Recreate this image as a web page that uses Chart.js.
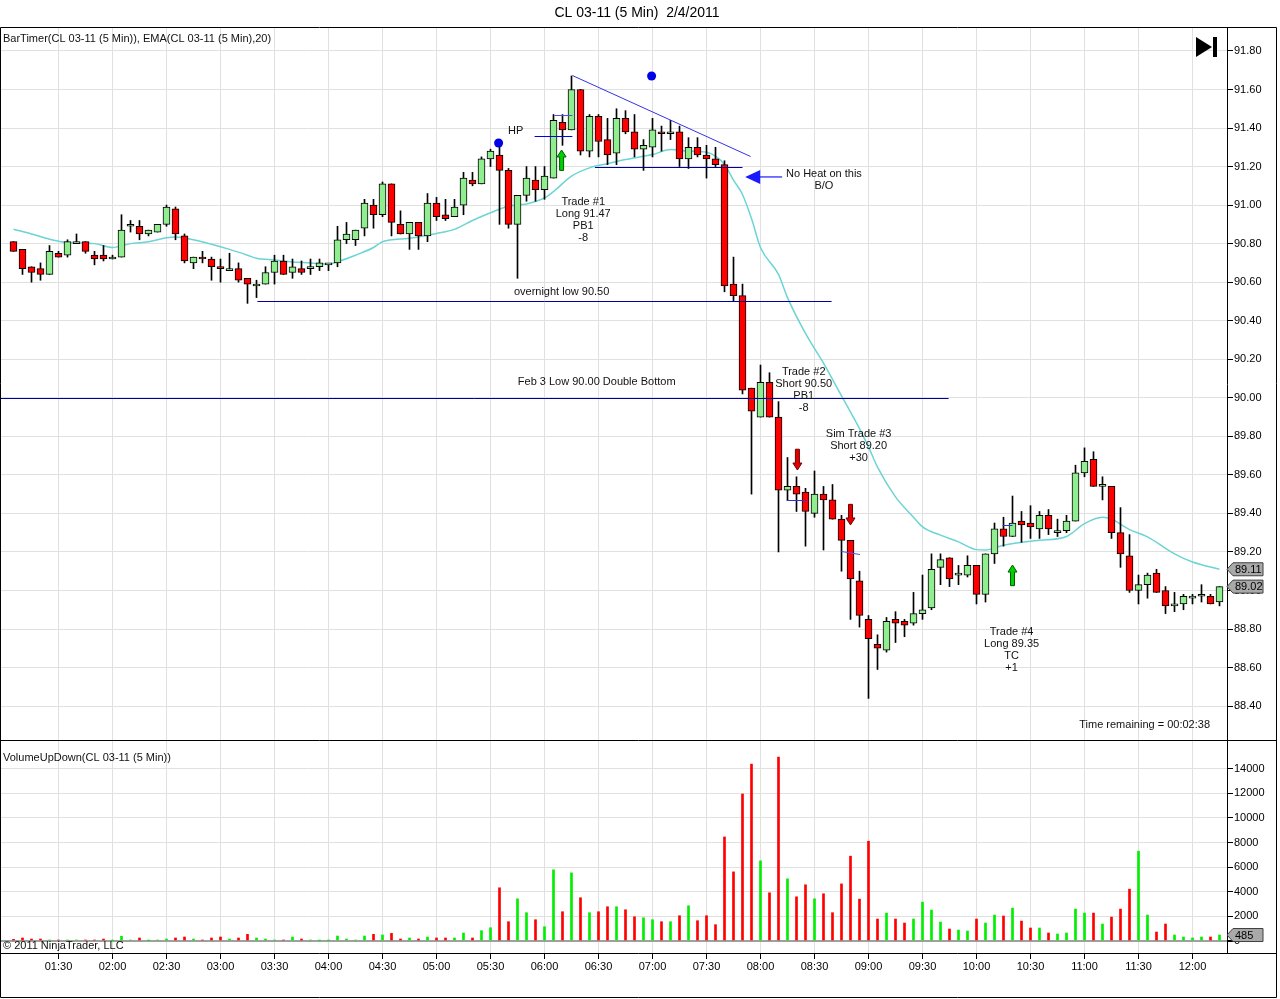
<!DOCTYPE html>
<html>
<head>
<meta charset="utf-8">
<script src="https://cdn.jsdelivr.net/npm/chart.js@4.4.0/dist/chart.umd.min.js"></script>
<style>
  html, body { margin: 0; padding: 0; background: #fff; }
  #wrap { position: relative; width: 1280px; height: 999px; }
  canvas { position: absolute; left: 0; }
  #price { top: 0; }
  #volume { top: 740px; }
</style>
</head>
<body>
<div id="wrap">
  <canvas id="price" width="1280" height="740"></canvas>
  <canvas id="volume" width="1280" height="259"></canvas>
</div>
<script>
// 5 minute bars, CL 03-11, 2/4/2011
const times = [
  "01:05","01:10","01:15","01:20","01:25","01:30","01:35","01:40","01:45","01:50","01:55",
  "02:00","02:05","02:10","02:15","02:20","02:25","02:30","02:35","02:40","02:45","02:50","02:55",
  "03:00","03:05","03:10","03:15","03:20","03:25","03:30","03:35","03:40","03:45","03:50","03:55",
  "04:00","04:05","04:10","04:15","04:20","04:25","04:30","04:35","04:40","04:45","04:50","04:55",
  "05:00","05:05","05:10","05:15","05:20","05:25","05:30","05:35","05:40","05:45","05:50","05:55",
  "06:00","06:05","06:10","06:15","06:20","06:25","06:30","06:35","06:40","06:45","06:50","06:55",
  "07:00","07:05","07:10","07:15","07:20","07:25","07:30","07:35","07:40","07:45","07:50","07:55",
  "08:00","08:05","08:10","08:15","08:20","08:25","08:30","08:35","08:40","08:45","08:50","08:55",
  "09:00","09:05","09:10","09:15","09:20","09:25","09:30","09:35","09:40","09:45","09:50","09:55",
  "10:00","10:05","10:10","10:15","10:20","10:25","10:30","10:35","10:40","10:45","10:50","10:55",
  "11:00","11:05","11:10","11:15","11:20","11:25","11:30","11:35","11:40","11:45","11:50","11:55",
  "12:00","12:05","12:10","12:15"
];

const opens = [
  90.81,90.77,90.68,90.67,90.64,90.75,90.74,90.80,90.81,90.74,
  90.74,90.72,90.73,90.89,90.89,90.85,90.86,90.90,90.98,90.84,
  90.70,90.73,90.72,90.68,90.66,90.67,90.62,90.58,90.59,90.65,
  90.71,90.65,90.67,90.67,90.68,90.69,90.70,90.82,90.82,90.88,
  91.00,90.95,91.11,90.90,90.85,90.91,90.84,91.01,90.95,90.94,
  91.00,91.13,91.11,91.24,91.26,91.18,90.90,91.05,91.13,91.08,
  91.14,91.43,91.39,91.60,91.28,91.46,91.34,91.27,91.45,91.38,
  91.29,91.30,91.38,91.37,91.38,91.24,91.30,91.26,91.24,91.21,
  90.59,90.53,90.05,89.90,90.08,89.90,89.52,89.54,89.51,89.40,
  89.50,89.47,89.37,89.26,89.05,88.85,88.72,88.69,88.85,88.84,
  88.83,88.88,88.91,89.12,89.17,89.08,89.08,89.13,88.98,89.19,
  89.32,89.28,89.36,89.35,89.32,89.39,89.30,89.31,89.36,89.61,
  89.68,89.54,89.54,89.30,89.18,89.00,89.03,89.09,89.00,88.92,
  88.93,88.96,88.97,88.97,88.94
];
const highs = [
  90.81,90.77,90.68,90.70,90.79,90.76,90.82,90.85,90.81,90.76,
  90.79,90.74,90.95,90.92,90.92,90.87,90.90,91.00,90.99,90.85,
  90.73,90.76,90.73,90.72,90.75,90.70,90.62,90.61,90.68,90.74,
  90.74,90.72,90.71,90.72,90.72,90.69,90.89,90.91,90.87,91.03,
  91.03,91.12,91.11,90.97,90.91,90.91,91.06,91.04,91.03,91.03,
  91.17,91.17,91.25,91.29,91.32,91.19,91.05,91.20,91.20,91.20,
  91.47,91.47,91.67,91.60,91.47,91.47,91.45,91.50,91.49,91.47,
  91.34,91.45,91.41,91.44,91.41,91.35,91.35,91.31,91.30,91.23,
  90.73,90.59,90.05,90.17,90.13,89.98,89.69,89.59,89.53,89.62,
  89.54,89.55,89.39,89.26,89.10,88.87,88.77,88.86,88.89,88.85,
  88.99,89.08,89.19,89.19,89.17,89.13,89.18,89.13,89.19,89.35,
  89.38,89.49,89.41,89.44,89.41,89.42,89.37,89.39,89.65,89.74,
  89.72,89.59,89.54,89.43,89.29,89.08,89.09,89.11,89.02,88.99,
  88.98,88.98,89.03,88.98,89.02
];
const lows = [
  90.76,90.64,90.60,90.61,90.64,90.73,90.73,90.80,90.75,90.69,
  90.71,90.72,90.73,90.86,90.82,90.84,90.86,90.89,90.82,90.70,
  90.67,90.70,90.61,90.60,90.66,90.60,90.49,90.52,90.59,90.59,
  90.64,90.62,90.64,90.64,90.66,90.66,90.68,90.80,90.79,90.84,
  90.88,90.94,90.84,90.85,90.77,90.77,90.81,90.92,90.92,90.94,
  90.95,91.10,91.11,91.20,90.90,90.88,90.62,91.02,91.02,91.03,
  91.14,91.31,91.39,91.26,91.25,91.25,91.21,91.21,91.37,91.25,
  91.18,91.25,91.28,91.34,91.20,91.19,91.25,91.14,91.20,90.55,
  90.50,90.02,89.50,89.90,89.90,89.20,89.47,89.41,89.23,89.38,
  89.21,89.37,89.10,88.85,88.81,88.44,88.59,88.68,88.73,88.76,
  88.82,88.85,88.90,89.03,89.02,89.03,89.07,88.93,88.94,89.14,
  89.23,89.28,89.25,89.27,89.27,89.29,89.28,89.30,89.36,89.59,
  89.54,89.47,89.27,89.12,88.99,88.93,88.96,88.99,88.88,88.89,
  88.90,88.93,88.94,88.93,88.92
];
const closes = [
  90.76,90.67,90.65,90.64,90.76,90.73,90.81,90.81,90.76,90.72,
  90.72,90.73,90.87,90.90,90.85,90.87,90.90,90.99,90.85,90.71,
  90.73,90.72,90.68,90.67,90.67,90.61,90.59,90.59,90.65,90.71,
  90.64,90.68,90.65,90.67,90.70,90.69,90.82,90.85,90.87,91.01,
  90.95,91.11,90.91,90.85,90.91,90.84,91.01,90.94,90.93,90.99,
  91.14,91.11,91.24,91.28,91.18,90.90,91.05,91.14,91.08,91.15,
  91.44,91.39,91.60,91.28,91.46,91.33,91.26,91.45,91.38,91.29,
  91.31,91.39,91.37,91.38,91.24,91.30,91.26,91.24,91.21,90.58,
  90.53,90.04,89.93,90.08,89.90,89.52,89.54,89.50,89.41,89.50,
  89.47,89.37,89.26,89.06,88.87,88.75,88.70,88.84,88.83,88.82,
  88.88,88.90,89.11,89.16,89.06,89.09,89.13,88.98,89.19,89.32,
  89.28,89.35,89.34,89.33,89.39,89.32,89.30,89.36,89.61,89.67,
  89.54,89.54,89.30,89.19,89.00,89.03,89.08,88.99,88.92,88.93,
  88.97,88.97,88.98,88.93,89.02
];
const volumes = [
  135,245,160,160,80,80,80,80,80,80,
  160,30,380,80,245,30,80,160,245,325,
  160,80,245,325,160,245,540,245,160,80,
  80,325,160,80,30,30,405,160,80,405,
  540,490,620,160,245,160,325,245,245,245,
  650,245,840,1080,4325,1570,3430,2300,1730,1160,
  5785,2380,5540,3515,2300,2380,2785,2785,2540,1970,
  1890,1730,1570,1570,2055,2865,1650,2055,1325,8460,
  5620,11950,14380,6515,3920,14950,5055,3595,4570,3430,
  3840,2300,4640,6900,3405,8110,1785,2270,1785,1460,
  1785,3160,2515,1540,975,890,810,1785,1460,2110,
  2030,2675,1620,1055,1055,650,570,650,2595,2270,
  2270,1380,1945,2595,4215,7300,2110,730,1380,485,
  325,245,325,325,485
];

// EMA(20) at these bars
const emaBars = [0,2,4,6,9,11,13,15,17,18,20,22,24,26,27,29,31,33,35,36,38,40,41,44,47,49,51,53,55,57,59,60,62,64,66,68,71,73,75,77,78,79,80,81,82,83,85,86,88,90,92,94,95,96,98,100,101,103,105,107,108,110,113,114,117,119,121,122,124,126,129,131,134];
const emaValues = [90.875,90.85,90.823,90.806,90.80,90.78,90.80,90.81,90.83,90.835,90.82,90.797,90.77,90.74,90.724,90.715,90.705,90.70,90.694,90.706,90.74,90.78,90.81,90.828,90.853,90.874,90.92,90.96,90.994,91.006,91.037,91.07,91.15,91.193,91.215,91.236,91.262,91.288,91.28,91.274,91.254,91.21,91.13,91.055,90.93,90.78,90.64,90.52,90.334,90.18,90.01,89.84,89.745,89.64,89.486,89.38,89.33,89.287,89.252,89.212,89.21,89.235,89.256,89.26,89.28,89.347,89.38,89.37,89.316,89.278,89.19,89.148,89.11];

const priceTicks = [88.40,88.60,88.80,89.00,89.20,89.40,89.60,89.80,90.00,90.20,90.40,90.60,90.80,91.00,91.20,91.40,91.60,91.80];
const volumeTicks = [0,2000,4000,6000,8000,10000,12000,14000];
const timeTicks = ["01:30","02:00","02:30","03:00","03:30","04:00","04:30","05:00","05:30","06:00","06:30","07:00","07:30","08:00","08:30","09:00","09:30","10:00","10:30","11:00","11:30","12:00"];

// drawing objects, in bar index / price units
const levelLines = [
  { x0: 27.1, p0: 90.50, x1: 90.9, p1: 90.50, color: '#00009a' },
  { x0: -1.39, p0: 90.00, x1: 103.9, p1: 90.00, color: '#00009a' },
  { x0: 64.6, p0: 91.20, x1: 81.0, p1: 91.20, color: '#00009a' },
  { x0: 57.9, p0: 91.36, x1: 62.1, p1: 91.36, color: '#0000e0' },
  { x0: 60.1, p0: 91.47, x1: 62.1, p1: 91.47, color: '#5050e8' },
  { x0: 85.9, p0: 89.47, x1: 88.1, p1: 89.47, color: '#3030d8' },
  { x0: 92.0, p0: 89.205, x1: 94.05, p1: 89.19, color: '#5050e8' },
  { x0: 109.9, p0: 89.34, x1: 111.0, p1: 89.34, color: '#3030d8' },
  { x0: 62.1, p0: 91.675, x1: 81.9, p1: 91.255, color: '#3232e6' }
];
const notes = [
  { x: 60.9, p: 90.549, lines: ['overnight low 90.50'] },
  { x: 64.8, p: 90.082, lines: ['Feb 3 Low 90.00 Double Bottom'] },
  { x: 55.8, p: 91.385, lines: ['HP'] },
  { x: 63.3, p: 91.016, lines: ['Trade #1', 'Long 91.47', 'PB1', '-8'] },
  { x: 90.05, p: 91.161, lines: ['No Heat on this', 'B/O'] },
  { x: 87.8, p: 90.134, lines: ['Trade #2', 'Short 90.50', 'PB1', '-8'] },
  { x: 93.9, p: 89.812, lines: ['Sim Trade #3', 'Short 89.20', '+30'] },
  { x: 110.9, p: 88.784, lines: ['Trade #4', 'Long 89.35', 'TC', '+1'] }
];
const dots = [ { x: 53.9, p: 91.322 }, { x: 70.9, p: 91.67 } ];
const upArrows = [ { x: 60.9, tip: 91.286, base: 91.18 }, { x: 111.0, tip: 89.132, base: 89.025 } ];
const downArrows = [ { x: 87.1, tip: 89.625, base: 89.733 }, { x: 93.0, tip: 89.34, base: 89.447 } ];
const pointer = { x: 81.3, p: 91.146, tail: 85.4 };

const FONT = '11px Arial, "Liberation Sans", sans-serif';
const TEXT = '#111';
const UP = '#90ee90', DOWN = '#ff0000';
const VOL_UP = '#00ee00', VOL_DOWN = '#ff0000';
const GRID = '#e0e0e0';
const X_MIN = -1.3889, X_MAX = 134.8333;

Chart.defaults.font.family = 'Arial, "Liberation Sans", sans-serif';
Chart.defaults.font.size = 11;
Chart.defaults.color = '#000';

function timeAxis(showLabels) {
  return {
    type: 'linear',
    min: X_MIN,
    max: X_MAX,
    offset: false,
    afterBuildTicks: s => { s.ticks = timeTicks.map(t => ({ value: times.indexOf(t) })); },
    afterFit: s => {
      s.height = showLabels ? 46 : 0;
      s.paddingLeft = 0; s.paddingRight = 0;
    },
    ticks: { display: showLabels, autoSkip: false, maxRotation: 0, padding: 1, callback: v => times[v] },
    grid: { color: GRID, offset: false, drawTicks: showLabels, tickLength: 6, tickColor: '#000' },
    border: { display: false }
  };
}

// right-hand value axis: fixed width, no extra layout padding for half labels
function fitValueAxis(s) {
  s.width = 50;
  s.paddingTop = 0;
  s.paddingBottom = 0;
}

function badge(ctx, x0, y, text) {
  ctx.beginPath();
  ctx.moveTo(x0, y);
  ctx.lineTo(x0 + 6, y - 6.5);
  ctx.lineTo(x0 + 36, y - 6.5);
  ctx.lineTo(x0 + 36, y + 6.5);
  ctx.lineTo(x0 + 6, y + 6.5);
  ctx.closePath();
  ctx.fillStyle = '#a9a9a9';
  ctx.fill();
  ctx.strokeStyle = '#404040';
  ctx.lineWidth = 1;
  ctx.stroke();
  ctx.fillStyle = '#000';
  ctx.font = FONT;
  ctx.textAlign = 'left';
  ctx.textBaseline = 'middle';
  ctx.fillText(text, x0 + 8, y + 0.5);
}

function drawArrow(ctx, cx, yTip, yBase, fill, line) {
  const d = yBase > yTip ? 1 : -1;
  const hh = 7, hw = 4.5, sw = 2;
  ctx.beginPath();
  ctx.moveTo(cx, yTip);
  ctx.lineTo(cx + hw, yTip + d * hh);
  ctx.lineTo(cx + sw, yTip + d * hh);
  ctx.lineTo(cx + sw, yBase);
  ctx.lineTo(cx - sw, yBase);
  ctx.lineTo(cx - sw, yTip + d * hh);
  ctx.lineTo(cx - hw, yTip + d * hh);
  ctx.closePath();
  ctx.fillStyle = fill;
  ctx.fill();
  ctx.strokeStyle = line;
  ctx.lineWidth = 1;
  ctx.stroke();
}

const priceDecor = {
  id: 'priceDecor',
  afterDatasetsDraw(chart) {
    const { ctx, chartArea: a, scales: { x, y } } = chart;
    const X = v => x.getPixelForValue(v), Y = v => y.getPixelForValue(v);
    ctx.save();
    ctx.beginPath();
    ctx.rect(a.left, a.top, a.right - a.left, a.bottom - a.top);
    ctx.clip();

    levelLines.forEach(l => {
      ctx.strokeStyle = l.color;
      ctx.lineWidth = 1;
      ctx.beginPath();
      ctx.moveTo(X(l.x0), Math.round(Y(l.p0)) + 0.5);
      ctx.lineTo(X(l.x1), Math.round(Y(l.p1)) + 0.5);
      ctx.stroke();
    });

    dots.forEach(d => {
      ctx.fillStyle = '#0000e6';
      ctx.beginPath();
      ctx.arc(X(d.x), Y(d.p), 4.5, 0, Math.PI * 2);
      ctx.fill();
    });

    upArrows.forEach(r => drawArrow(ctx, X(r.x), Y(r.tip), Y(r.base), '#00d000', '#005a00'));
    downArrows.forEach(r => drawArrow(ctx, X(r.x), Y(r.tip), Y(r.base), '#e00000', '#700000'));

    const tx = X(pointer.x), ty = Y(pointer.p);
    ctx.fillStyle = '#1a1aff';
    ctx.beginPath();
    ctx.moveTo(tx, ty);
    ctx.lineTo(tx + 15, ty - 7);
    ctx.lineTo(tx + 15, ty + 7);
    ctx.closePath();
    ctx.fill();
    ctx.strokeStyle = '#1a1aff';
    ctx.lineWidth = 1.2;
    ctx.beginPath();
    ctx.moveTo(tx + 14, ty);
    ctx.lineTo(X(pointer.tail), ty);
    ctx.stroke();

    ctx.font = FONT;
    ctx.fillStyle = TEXT;
    ctx.textAlign = 'center';
    ctx.textBaseline = 'middle';
    notes.forEach(n => {
      n.lines.forEach((t, k) => ctx.fillText(t, X(n.x), Y(n.p) + k * 12));
    });
    ctx.restore();
  },
  afterDraw(chart) {
    const { ctx, chartArea: a, scales: { y } } = chart;
    ctx.save();
    ctx.font = '14px Arial, "Liberation Sans", sans-serif';
    ctx.fillStyle = '#000';
    ctx.textAlign = 'center';
    ctx.textBaseline = 'middle';
    ctx.fillText('CL 03-11 (5 Min)  2/4/2011', chart.width / 2 - 3, 13);

    ctx.font = FONT;
    ctx.fillStyle = TEXT;
    ctx.textAlign = 'left';
    ctx.fillText('BarTimer(CL 03-11 (5 Min)), EMA(CL 03-11 (5 Min),20)', a.left + 2, a.top + 11);
    ctx.textAlign = 'right';
    ctx.fillText('Time remaining = 00:02:38', a.right - 17, a.bottom - 15);

    // play/end icon
    ctx.fillStyle = '#000';
    ctx.beginPath();
    ctx.moveTo(a.right - 31, a.top + 9);
    ctx.lineTo(a.right - 15, a.top + 19);
    ctx.lineTo(a.right - 31, a.top + 29);
    ctx.closePath();
    ctx.fill();
    ctx.fillRect(a.right - 14, a.top + 9, 4, 20);

    badge(ctx, a.right, y.getPixelForValue(emaValues[emaValues.length - 1]), emaValues[emaValues.length - 1].toFixed(2));
    badge(ctx, a.right, y.getPixelForValue(closes[closes.length - 1]), closes[closes.length - 1].toFixed(2));

    ctx.strokeStyle = '#000';
    ctx.lineWidth = 1;
    ctx.beginPath();
    ctx.moveTo(0.5, chart.height);
    ctx.lineTo(0.5, a.top - 0.5);
    ctx.lineTo(1276.5, a.top - 0.5);
    ctx.lineTo(1276.5, chart.height);
    ctx.stroke();
    ctx.restore();
  }
};

const volumeDecor = {
  id: 'volumeDecor',
  afterDraw(chart) {
    const { ctx, chartArea: a, scales: { y } } = chart;
    ctx.save();
    ctx.font = FONT;
    ctx.fillStyle = TEXT;
    ctx.textAlign = 'left';
    ctx.textBaseline = 'middle';
    ctx.fillText('VolumeUpDown(CL 03-11 (5 Min))', a.left + 2, a.top + 17);
    ctx.fillText('\u00A9 2011 NinjaTrader, LLC', a.left + 2, a.bottom - 7);

    badge(ctx, a.right, y.getPixelForValue(volumes[volumes.length - 1]), String(volumes[volumes.length - 1]));

    ctx.strokeStyle = '#000';
    ctx.lineWidth = 1;
    ctx.beginPath();
    ctx.moveTo(0, 0.5); ctx.lineTo(1277, 0.5);
    ctx.moveTo(0, a.bottom + 0.5); ctx.lineTo(1277, a.bottom + 0.5);
    ctx.moveTo(0.5, 0); ctx.lineTo(0.5, 257.5); ctx.lineTo(1276.5, 257.5); ctx.lineTo(1276.5, 0);
    ctx.stroke();
    ctx.restore();
  }
};

new Chart(document.getElementById('price'), {
  type: 'bar',
  data: {
    datasets: [
      {
        type: 'line',
        label: 'EMA',
        data: emaBars.map((b, k) => ({ x: b, y: emaValues[k] })),
        borderColor: '#6cd4d4',
        borderWidth: 1.5,
        pointRadius: 0,
        cubicInterpolationMode: 'monotone',
        order: 3
      },
      {
        label: 'wick',
        data: times.map((t, i) => ({ x: i, y: [lows[i], highs[i]] })),
        backgroundColor: '#000',
        barThickness: 1,
        minBarLength: 1,
        grouped: false,
        order: 2
      },
      {
        label: 'body',
        data: times.map((t, i) => ({ x: i, y: [opens[i], closes[i]] })),
        backgroundColor: times.map((t, i) => closes[i] >= opens[i] ? UP : DOWN),
        borderColor: '#000',
        borderWidth: 1,
        borderSkipped: false,
        barThickness: 7,
        minBarLength: 2,
        grouped: false,
        order: 1
      }
    ]
  },
  options: {
    responsive: false,
    devicePixelRatio: 1,
    animation: false,
    events: [],
    layout: { padding: { top: 28, left: 1, right: 3, bottom: 0 } },
    plugins: { legend: { display: false }, tooltip: { enabled: false }, title: { display: false } },
    scales: {
      x: timeAxis(false),
      y: {
        type: 'linear',
        position: 'right',
        min: 88.224,
        max: 91.919,
        beginAtZero: false,
        afterBuildTicks: s => { s.ticks = priceTicks.map(v => ({ value: v })); },
        afterFit: fitValueAxis,
        ticks: { padding: 1, callback: v => v.toFixed(2) },
        grid: { color: GRID, tickLength: 6, tickColor: '#000' },
        border: { display: true, color: '#000' }
      }
    }
  },
  plugins: [priceDecor]
});

new Chart(document.getElementById('volume'), {
  type: 'bar',
  data: {
    datasets: [{
      label: 'Volume',
      data: times.map((t, i) => ({ x: i, y: volumes[i] })),
      backgroundColor: times.map((t, i) => closes[i] >= opens[i] ? VOL_UP : VOL_DOWN),
      barThickness: 2,
      grouped: false
    }]
  },
  options: {
    responsive: false,
    devicePixelRatio: 1,
    animation: false,
    events: [],
    layout: { padding: { top: 1, left: 1, right: 3, bottom: 0 } },
    plugins: { legend: { display: false }, tooltip: { enabled: false } },
    scales: {
      x: timeAxis(true),
      y: {
        type: 'linear',
        position: 'right',
        min: -976,
        max: 16260,
        beginAtZero: false,
        afterBuildTicks: s => { s.ticks = volumeTicks.map(v => ({ value: v })); },
        afterFit: fitValueAxis,
        ticks: { padding: 1, callback: v => String(v) },
        grid: {
          color: c => c.tick && c.tick.value === 0 ? '#a0a0a0' : GRID,
          lineWidth: c => c.tick && c.tick.value === 0 ? 2 : 1,
          tickLength: 6,
          tickColor: '#000'
        },
        border: { display: true, color: '#000' }
      }
    }
  },
  plugins: [volumeDecor]
});
</script>
</body>
</html>
